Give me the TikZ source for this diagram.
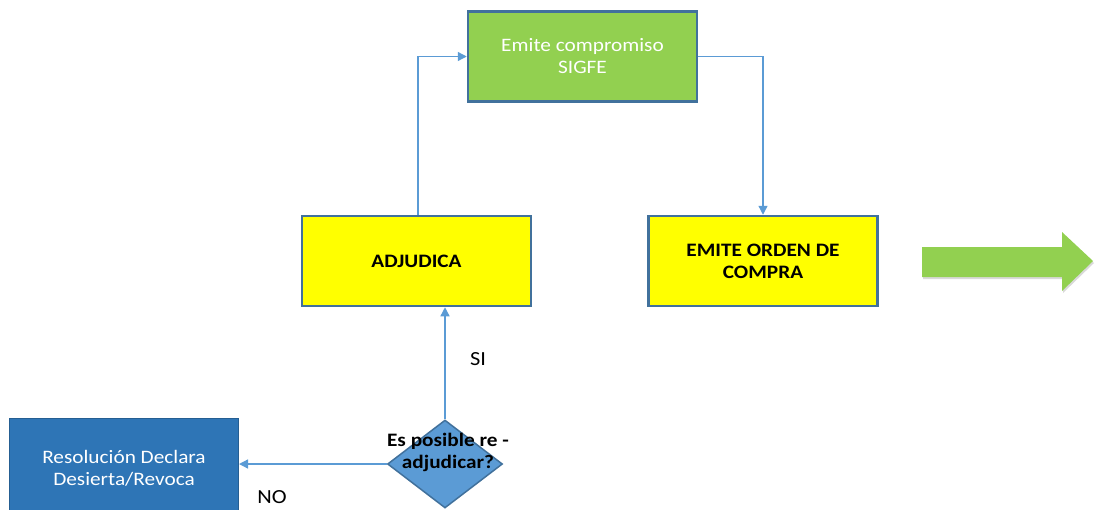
\documentclass[tikz,border=0pt]{standalone}
\usepackage{fontspec}
\setmainfont{Carlito}[FakeStretch=1.12]
\usetikzlibrary{arrows.meta,shapes.geometric,shadows}
\definecolor{boxedge}{HTML}{41719C}
\definecolor{linkblue}{HTML}{5B9BD5}
\definecolor{leafgreen}{HTML}{92D050}
\definecolor{deepblue}{HTML}{2E75B6}
\definecolor{brightyellow}{HTML}{FFFF00}
\tikzset{
  procbox/.style={draw=boxedge, line width=2.5pt, minimum width=229pt, minimum height=90pt,
    inner sep=0pt, align=center, font=\fontsize{19}{22}\selectfont},
  yellowbox/.style={procbox, fill=brightyellow, font=\fontsize{19}{22}\selectfont\bfseries},
  greenbox/.style={procbox, fill=leafgreen, text=white},
  bluebox/.style={procbox, draw=deepblue!80!black, line width=1pt, fill=deepblue, text=white},
  decision/.style={diamond, draw=boxedge, line width=1.5pt, fill=linkblue, aspect=1.3,
    minimum width=115pt, minimum height=88pt, inner sep=0pt},
  link/.style={draw=linkblue, line width=1.3pt, -{Triangle[length=9pt,width=9pt]}},
  lbl/.style={font=\fontsize{20}{22}\selectfont, inner sep=0pt}
}
\begin{document}
\begin{tikzpicture}[x=1pt,y=-1pt]
\useasboundingbox (0,0) rectangle (1095,509);

% process boxes
\node[greenbox] (sigfe) at (582.5,56.5) {Emite compromiso\\SIGFE};
\node[yellowbox] (adj) at (416.5,261) {ADJUDICA};
\node[yellowbox] (orden) at (763,261) {EMITE ORDEN DE\\COMPRA};
\node[bluebox, minimum height=100pt] (resol) at (124,468) {Resolución Declara\\Desierta/Revoca};

% decision
\node[decision] (dec) at (445,464) {};
\node[font=\fontsize{19}{22}\selectfont\bfseries, align=center, inner sep=0pt] (dectxt) at (448,452)
  {Es posible re -\\adjudicar?};

% connectors
\draw[link] (dec.north) -- (dec.north |- adj.south);
\draw[link] ([xshift=1.5pt]adj.north) |- (sigfe.west);
\draw[link] (sigfe.east) -| (orden.north);
\draw[link] (dec.west) -- (dec.west -| resol.east);

% branch labels
\node[lbl] (si) at (478,359) {SI};
\node[lbl] (no) at (272,497) {NO};

% big outgoing arrow
\fill[leafgreen, drop shadow={shadow xshift=1pt, shadow yshift=-2pt, opacity=0.3}]
  (922,247) -- (1062,247) -- (1062,232) -- (1093,261) -- (1062,291) -- (1062,277) -- (922,277) -- cycle;
\end{tikzpicture}
\end{document}
